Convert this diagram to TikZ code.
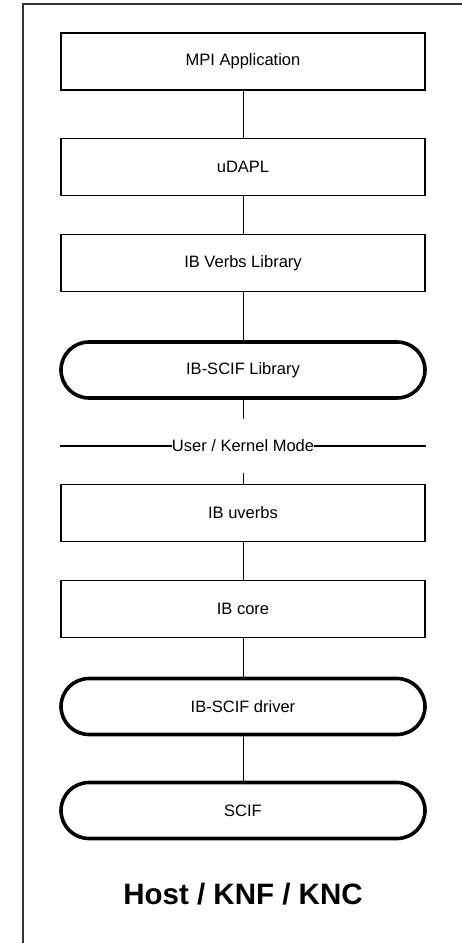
\documentclass[tikz,border=0pt]{standalone}
\usepackage{fontspec}
\setmainfont{Liberation Sans}
\begin{document}
\begin{tikzpicture}[x=1pt,y=-1pt,
  layer/.style={draw=black,line width=1.3pt,minimum width=364pt,minimum height=57pt,
    inner sep=0pt,font=\fontsize{16.5}{20}\selectfont,fill=white},
  softlayer/.style={layer,line width=3.6pt,rounded corners=28pt,minimum height=56pt},
  link/.style={draw=black,line width=1pt},
  frame/.style={draw=black!80,line width=2pt}]
\useasboundingbox (0,0) rectangle (462,943);
% outer frame (only top and left edges fall inside the page)
\draw[frame] (470,4) -- (23,4) -- (23,950);
% stack of layers
\node[layer]     (mpi)   at (243,61.5)  {MPI Application};
\node[layer]     (udapl) at (243,167)   {uDAPL};
\node[layer]     (verbs) at (243,263)   {IB Verbs Library};
\node[softlayer] (lib)   at (243,370)   {IB-SCIF Library};
\node[fill=white,inner xsep=0pt,minimum height=54pt,font=\fontsize{16.5}{20}\selectfont]
                 (mode)  at (243,446)   {User / Kernel Mode};
\node[layer]     (uverbs) at (243,513)  {IB uverbs};
\node[layer]     (core)  at (243,609)   {IB core};
\node[softlayer] (drv)   at (243,706.5) {IB-SCIF driver};
\node[softlayer] (scif)  at (243,810.5) {SCIF};
\node[font=\bfseries\fontsize{29.5}{34}\selectfont] (host) at (243,894) {Host / KNF / KNC};
% mode boundary
\coordinate (ml) at (60,446);
\coordinate (mr) at (426,446);
\draw[link,line width=1.4pt] (ml) -- (mode.west);
\draw[link,line width=1.4pt] (mode.east) -- (mr);
% connectors
\draw[link] (mpi) -- (udapl);
\draw[link] (udapl) -- (verbs);
\draw[link] (verbs) -- (lib);
\draw[link] (lib) -- (mode);
\draw[link] (mode) -- (uverbs);
\draw[link] (uverbs) -- (core);
\draw[link] (core) -- (drv);
\draw[link] (drv) -- (scif);
\end{tikzpicture}
\end{document}
